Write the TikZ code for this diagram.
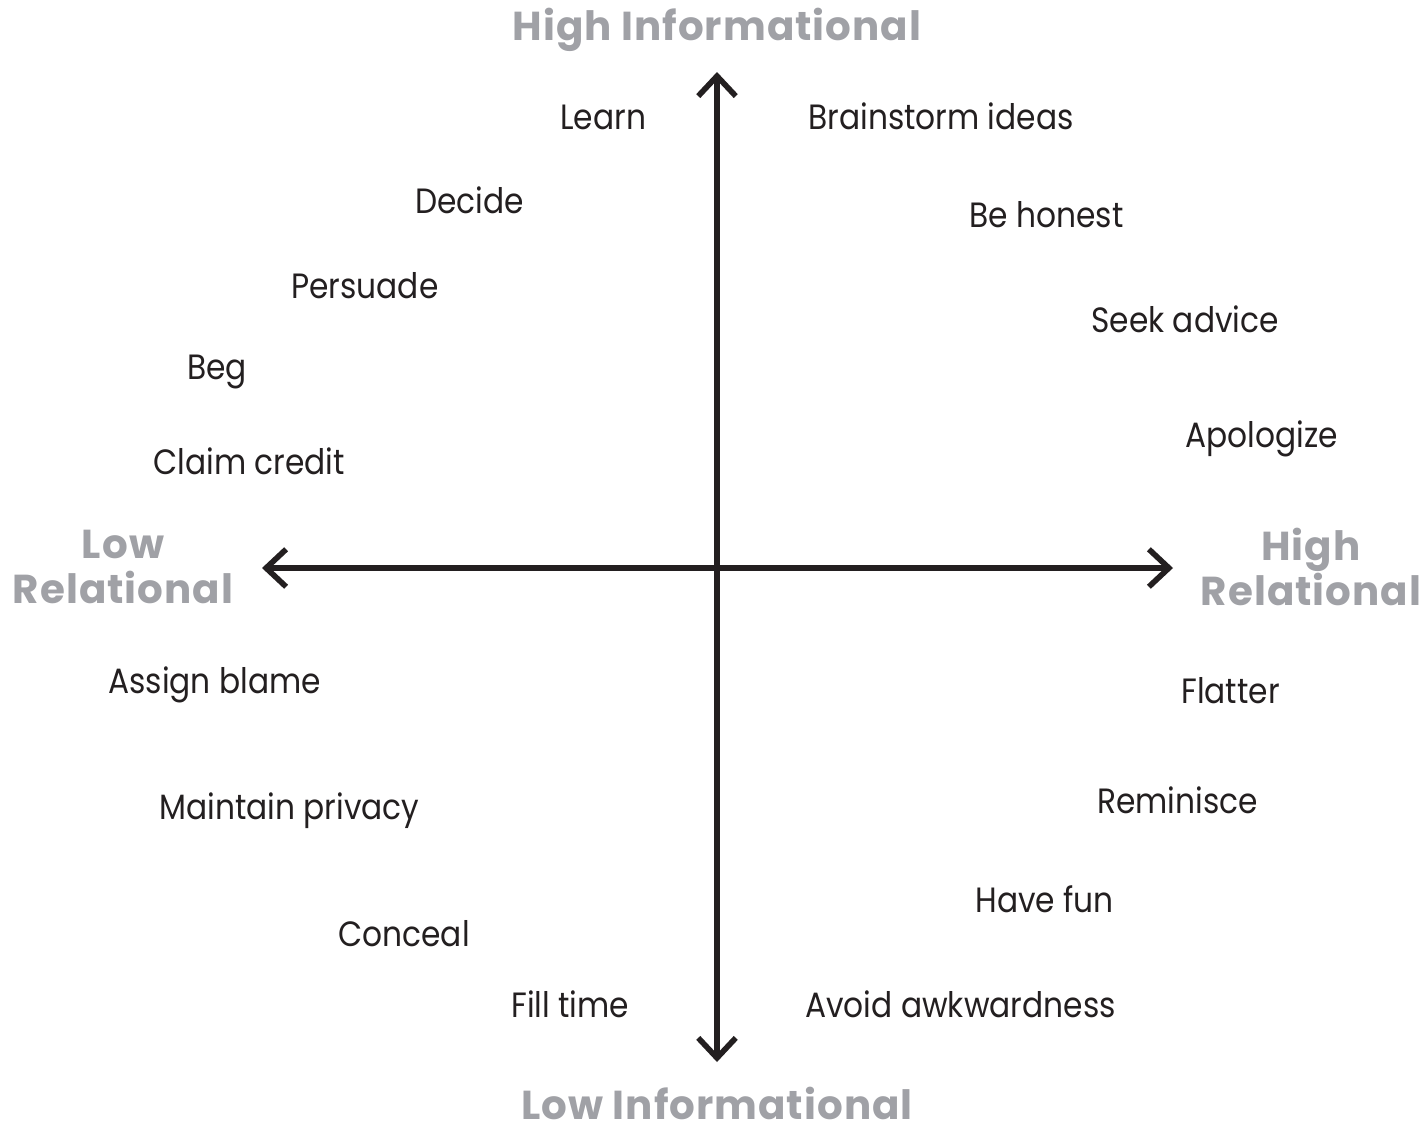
\documentclass[tikz,border=0pt]{standalone}
\usepackage{fontspec}
\setmainfont{Poppins}
\newfontfamily\actfont[FakeStretch=0.89]{Poppins}
\newfontfamily\polefont[LetterSpace=2.5]{Poppins}
\usetikzlibrary{arrows.meta}
\definecolor{axisgray}{RGB}{160,161,166}
\definecolor{ink}{RGB}{35,31,32}
\begin{document}
\begin{tikzpicture}[x=0.02cm,y=-0.02cm,
	act/.style={anchor=base west,inner sep=0pt,text=ink,font=\actfont\fontsize{20}{24}\selectfont},
	pole/.style={inner sep=0pt,text=axisgray,align=center,font=\polefont\fontsize{23}{26}\selectfont\bfseries},
	axis/.style={line width=3.2pt,draw=ink,{Straight Barb[length=4mm,width=7.5mm]}-{Straight Barb[length=4mm,width=7.5mm]}}]
	\useasboundingbox (0,0) rectangle (1427,1133);
	% axes
	\coordinate (top) at (717,72);
	\coordinate (bot) at (717,1062);
	\coordinate (lft) at (262,568);
	\coordinate (rgt) at (1173,568);
	\draw[axis] (bot)--(top);
	\draw[axis] (lft)--(rgt);
	% poles
	\node[pole,anchor=base] (hiinf) at (717,40) {High Informational};
	\node[pole,anchor=base] (loinf) at (717,1119) {Low Informational};
	\node[pole] (lorel) at (123,567) {Low\\Relational};
	\node[pole] (hirel) at (1311,567) {High\\Relational};
	% upper left
	\node[act] (learn) at (560,129) {Learn};
	\node[act] (decide) at (415,213) {Decide};
	\node[act] (persuade) at (291,298) {Persuade};
	\node[act] (beg) at (187,379) {Beg};
	\node[act] (claim) at (153,474) {Claim credit};
	% upper right
	\node[act] (brainstorm) at (808,129) {Brainstorm ideas};
	\node[act] (honest) at (969,227) {Be honest};
	\node[act] (advice) at (1091,332) {Seek advice};
	\node[act] (apologize) at (1185,447) {Apologize};
	% lower left
	\node[act] (blame) at (108,693) {Assign blame};
	\node[act] (privacy) at (159,819) {Maintain privacy};
	\node[act] (conceal) at (338,946) {Conceal};
	\node[act] (fill) at (511,1017) {Fill time};
	% lower right
	\node[act] (flatter) at (1181,703) {Flatter};
	\node[act] (reminisce) at (1097,813) {Reminisce};
	\node[act] (fun) at (975,912) {Have fun};
	\node[act] (awkward) at (805,1017) {Avoid awkwardness};
\end{tikzpicture}
\end{document}
